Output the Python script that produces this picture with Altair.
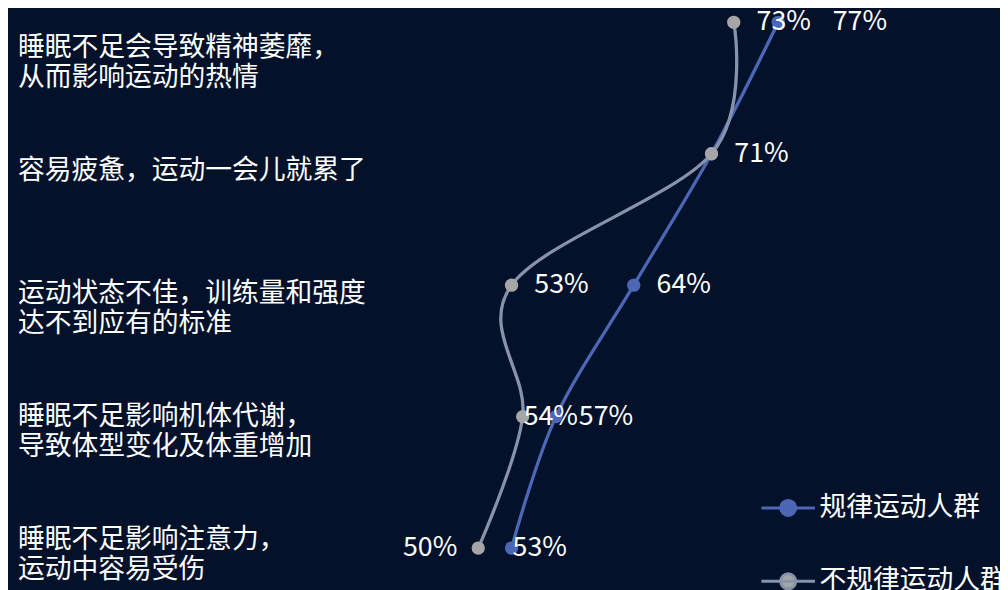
import altair as alt
import pandas as pd

# ---- data ----
categories = [
    "睡眠不足会导致精神萎靡，\n从而影响运动的热情",
    "容易疲惫，运动一会儿就累了",
    "运动状态不佳，训练量和强度\n达不到应有的标准",
    "睡眠不足影响机体代谢，\n导致体型变化及体重增加",
    "睡眠不足影响注意力，\n运动中容易受伤",
]
series_names = ["规律运动人群", "不规律运动人群"]
regular = [77, 71, 64, 57, 53]
irregular = [73, 71, 53, 54, 50]

# ---- styles ----
BG = "#03122A"
BLUE = "#4B67B6"
GREY_LINE = "#8893AA"
GREY_POINT = "#A6A6A6"
FONT = "Noto Sans CJK SC"
FS = 27

rows = []
for sid, (name, vals) in enumerate(zip(series_names, [regular, irregular])):
    for i, (c, v) in enumerate(zip(categories, vals)):
        rows.append({"cat": c, "idx": i, "sid": sid, "series": name,
                     "value": v, "label": f"{v}%"})
df = pd.DataFrame(rows)
cat_df = pd.DataFrame({"cat": categories})

x_enc = alt.X("value:Q", scale=alt.Scale(domain=[40, 80], range=[362, 810]), axis=None)
y_enc = alt.Y("cat:N", sort=categories,
              scale=alt.Scale(type="point", domain=categories, range=[12, 542], padding=0),
              axis=None)

LEG_PATH = ("M-1,0L1,0M0.28,0A0.28,0.28,0,1,1,-0.28,0A0.28,0.28,0,1,1,0.28,0Z")
legend = alt.Legend(
    title=None, orient="none", legendX=758, legendY=473, direction="vertical",
    symbolType=LEG_PATH, symbolSize=2916, symbolStrokeWidth=3,
    labelFontSize=FS, labelColor="white", labelFont=FONT, labelOffset=3,
    labelLimit=400, rowPadding=31, padding=0, symbolOpacity=1,
)

base = alt.Chart(df)

lines = base.mark_line(interpolate="cardinal", tension=0, strokeWidth=3.3).encode(
    x=x_enc, y=y_enc, order="idx:Q",
    stroke=alt.Stroke("series:N", sort=series_names,
                      scale=alt.Scale(domain=series_names, range=[BLUE, GREY_LINE]),
                      legend=legend),
)

points = base.mark_circle(size=180, opacity=1).encode(
    x=x_enc, y=y_enc,
    fill=alt.Fill("series:N", sort=series_names,
                  scale=alt.Scale(domain=series_names, range=[BLUE, GREY_POINT]),
                  legend=legend),
)

txt = dict(baseline="middle", fontSize=FS, color="white", font=FONT)

def lab(expr, **kw):
    return base.transform_filter(expr).mark_text(**{**txt, **kw}).encode(
        x=x_enc, y=y_enc, text="label:N")

special = ("(datum.sid==0 && (datum.idx==0 || datum.idx==1 || datum.idx==4)) || "
           "(datum.sid==1 && (datum.idx==3 || datum.idx==4))")
lab_std = lab(f"!({special})", align="left", dx=23)
lab_far = lab("datum.sid==0 && datum.idx==0", align="left", dx=55)
lab_near = lab("(datum.sid==0 && datum.idx==4) || (datum.sid==1 && datum.idx==3)",
               align="left", dx=1)
lab_left = lab("datum.sid==1 && datum.idx==4", align="right", dx=-21)

cat_labels = alt.Chart(cat_df).mark_text(
    align="left", baseline="middle", fontSize=FS, color="white", font=FONT,
    lineBreak="\n", lineHeight=30,
).encode(
    x=alt.value(10),
    y=alt.Y("cat:N", sort=categories,
            scale=alt.Scale(type="point", domain=categories, range=[38, 534], padding=0),
            axis=None),
    text="cat:N",
)

data_layer = alt.layer(lines, points, lab_std, lab_far, lab_near, lab_left)

chart = alt.layer(cat_labels, data_layer).resolve_scale(y="independent").properties(
    width=1000, height=600, autosize=alt.AutoSizeParams(type="none"), padding=0,
    background=BG,
).configure_view(stroke=None)

chart.save("out.html", embed_options={"renderer": "svg", "actions": False})
